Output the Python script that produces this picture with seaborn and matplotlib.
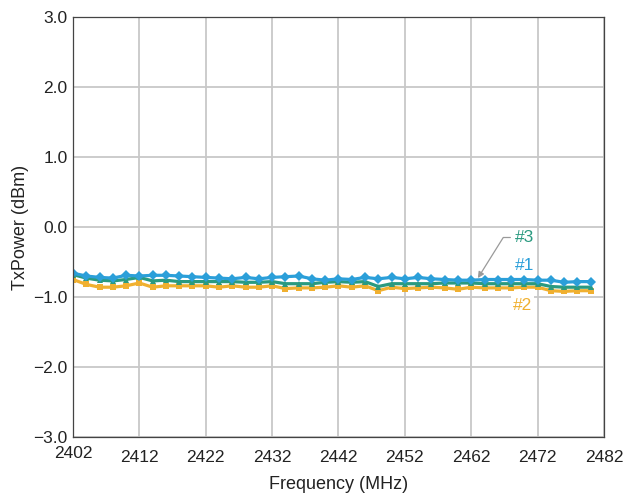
import matplotlib
matplotlib.use("Agg")
import matplotlib.pyplot as plt
import matplotlib.transforms as mtransforms
import seaborn as sns
import pandas as pd

freq = [2402, 2404, 2406, 2408, 2410, 2412, 2414, 2416, 2418, 2420,
        2422, 2424, 2426, 2428, 2430, 2432, 2434, 2436, 2438, 2440,
        2442, 2444, 2446, 2448, 2450, 2452, 2454, 2456, 2458, 2460,
        2462, 2464, 2466, 2468, 2470, 2472, 2474, 2476, 2478, 2480]

dev1 = [-0.66, -0.70, -0.72, -0.73, -0.69, -0.70, -0.69, -0.69, -0.70, -0.71,
        -0.72, -0.73, -0.74, -0.72, -0.74, -0.72, -0.71, -0.70, -0.74, -0.76,
        -0.74, -0.75, -0.72, -0.74, -0.72, -0.74, -0.72, -0.74, -0.75, -0.76,
        -0.76, -0.75, -0.75, -0.75, -0.75, -0.76, -0.76, -0.79, -0.78, -0.78]

dev3 = [-0.68, -0.73, -0.76, -0.77, -0.75, -0.72, -0.77, -0.76, -0.78, -0.78,
        -0.78, -0.78, -0.78, -0.79, -0.79, -0.78, -0.81, -0.81, -0.81, -0.79,
        -0.78, -0.79, -0.78, -0.85, -0.81, -0.81, -0.81, -0.81, -0.80, -0.80,
        -0.80, -0.81, -0.81, -0.81, -0.81, -0.81, -0.85, -0.86, -0.86, -0.86]

dev2 = [-0.75, -0.82, -0.86, -0.86, -0.84, -0.80, -0.86, -0.84, -0.84, -0.84,
        -0.84, -0.86, -0.84, -0.86, -0.86, -0.84, -0.88, -0.87, -0.87, -0.86,
        -0.84, -0.86, -0.84, -0.91, -0.86, -0.88, -0.87, -0.86, -0.87, -0.89,
        -0.86, -0.87, -0.87, -0.87, -0.86, -0.86, -0.91, -0.92, -0.91, -0.91]

series_names = ["#2", "#3", "#1"]
colors = {"#1": "#2b9fd9", "#3": "#2a9a80", "#2": "#f0b030"}
markers = {"#1": "D", "#3": "^", "#2": "s"}

x_ticks = [2402, 2412, 2422, 2432, 2442, 2452, 2462, 2472, 2482]
y_ticks = [-3.0, -2.0, -1.0, 0.0, 1.0, 2.0, 3.0]
y_ticklabels = ["\u22123.0", "\u22122.0", "\u22121.0", "0.0", "1.0", "2.0", "3.0"]

df = pd.concat([
    pd.DataFrame({"freq": freq, "power": dev2, "dev": "#2"}),
    pd.DataFrame({"freq": freq, "power": dev3, "dev": "#3"}),
    pd.DataFrame({"freq": freq, "power": dev1, "dev": "#1"}),
])

sns.set_theme(style="whitegrid")
plt.rcParams["font.family"] = ["Liberation Sans", "DejaVu Sans"]

fig = plt.figure(figsize=(6.25, 4.95), dpi=100)
ax = fig.add_axes([73 / 625, 58 / 495, 531 / 625, 420 / 495])

sns.lineplot(data=df, x="freq", y="power", hue="dev", style="dev",
             hue_order=series_names, style_order=series_names,
             palette=colors, markers=markers, dashes=False,
             linewidth=2.3, markersize=4.8, markeredgewidth=0,
             legend=False, ax=ax)

tick_fs = 12.5
label_fs = 13
text_col = "#222222"

ax.set_xlim(2402, 2482)
ax.set_ylim(-3.0, 3.0)
ax.set_xticks(x_ticks)
ax.set_xticklabels([str(t) for t in x_ticks], fontsize=tick_fs, color=text_col)
ax.set_yticks(y_ticks)
ax.set_yticklabels(y_ticklabels, fontsize=tick_fs, color=text_col)
ax.tick_params(axis="x", length=0, pad=9)
ax.tick_params(axis="y", length=0, pad=4)
ax.set_xlabel("Frequency (MHz)", fontsize=label_fs, color=text_col, labelpad=8)
ax.set_ylabel("TxPower (dBm)", fontsize=label_fs, color=text_col, labelpad=3)

# first x label sits slightly higher, as in the reference
xl = ax.get_xticklabels()[0]
xl.set_transform(xl.get_transform() + mtransforms.ScaledTranslation(0, 4 / 100, fig.dpi_scale_trans))

ax.grid(True, color="#c8c8c8", linewidth=1.3)
for s in ax.spines.values():
    s.set_visible(True)
    s.set_color("#444444")
    s.set_linewidth(0.9)
ax.set_facecolor("white")

ax.annotate("#3", xy=(2463.0, -0.73), xytext=(2468.6, -0.15),
            fontsize=tick_fs, color=colors["#3"], ha="left", va="center",
            arrowprops=dict(arrowstyle="-|>", color="#9a9a9a", lw=0.9,
                            mutation_scale=9, shrinkA=1, shrinkB=0,
                            relpos=(0, 0.5),
                            connectionstyle="angle,angleA=0,angleB=58,rad=0"))
ax.text(2468.6, -0.55, "#1", fontsize=tick_fs, color=colors["#1"],
        ha="left", va="center")
ax.text(2468.3, -1.12, "#2", fontsize=tick_fs, color=colors["#2"],
        ha="left", va="center",
        bbox=dict(facecolor="white", edgecolor="none", pad=1.5))

fig.savefig("out.png", dpi=100)
